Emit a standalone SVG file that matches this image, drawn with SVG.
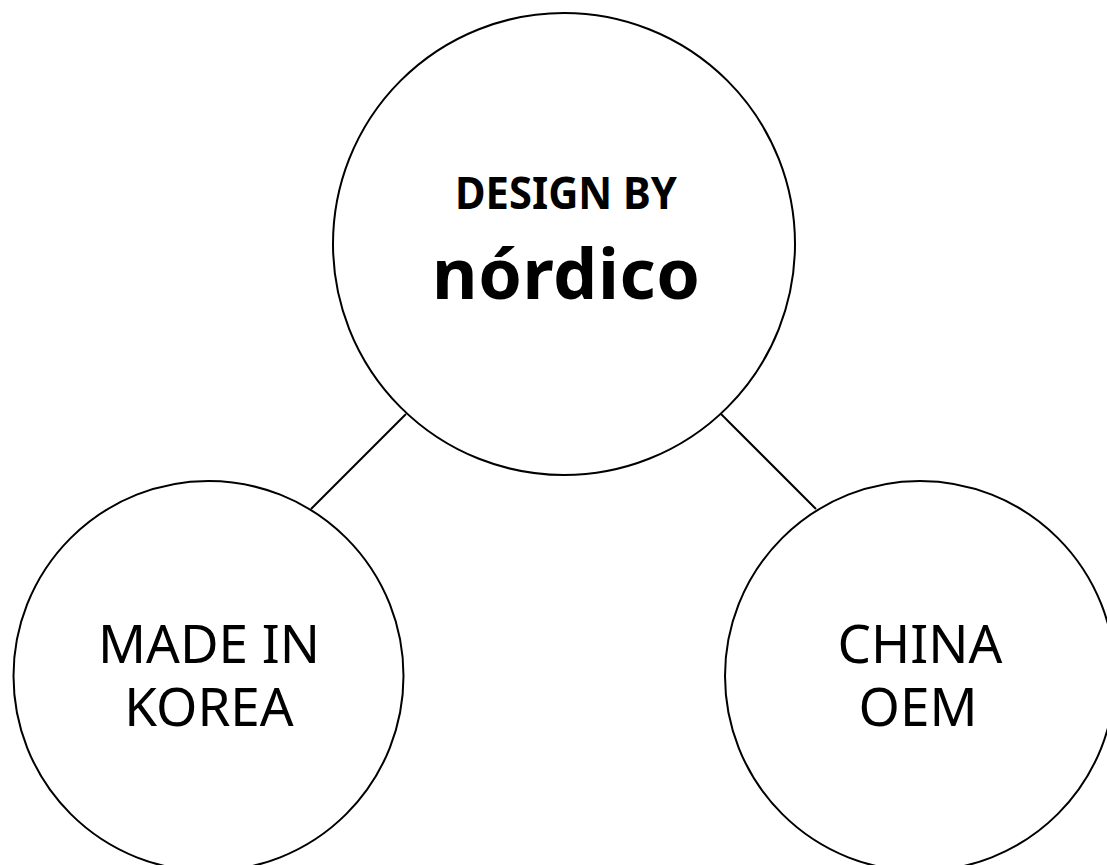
<svg xmlns="http://www.w3.org/2000/svg" width="1107" height="865" viewBox="0 0 1107 865">
<style>
.node{fill:#fff;stroke:#000;stroke-width:2}
.conn{stroke:#000;stroke-width:2;fill:none}
text{font-family:"Noto Sans","Open Sans","Liberation Sans",sans-serif;fill:#000;text-anchor:middle}
.lbl{font-size:53px}
.sm{font-size:44px;font-weight:bold}
.big{font-size:70px;font-weight:bold}
</style>
<rect width="1107" height="865" fill="#fff"/>
<g id="connectors">
<line class="conn" x1="406" y1="414" x2="311" y2="509"/>
<line class="conn" x1="721" y1="414" x2="816" y2="509"/>
</g>
<g id="node-design">
<circle class="node" cx="564" cy="244" r="231"/>
<text class="sm" x="566" y="209" textLength="222" lengthAdjust="spacingAndGlyphs">DESIGN BY</text>
<text class="big" x="566" y="299" textLength="268" lengthAdjust="spacing">nórdico</text>
</g>
<g id="node-korea">
<circle class="node" cx="208.5" cy="676" r="195"/>
<text class="lbl" x="209" y="663">MADE IN</text>
<text class="lbl" x="209" y="726">KOREA</text>
</g>
<g id="node-china">
<circle class="node" cx="920" cy="676" r="195"/>
<text class="lbl" x="920" y="663">CHINA</text>
<text class="lbl" x="918" y="726">OEM</text>
</g>
</svg>
